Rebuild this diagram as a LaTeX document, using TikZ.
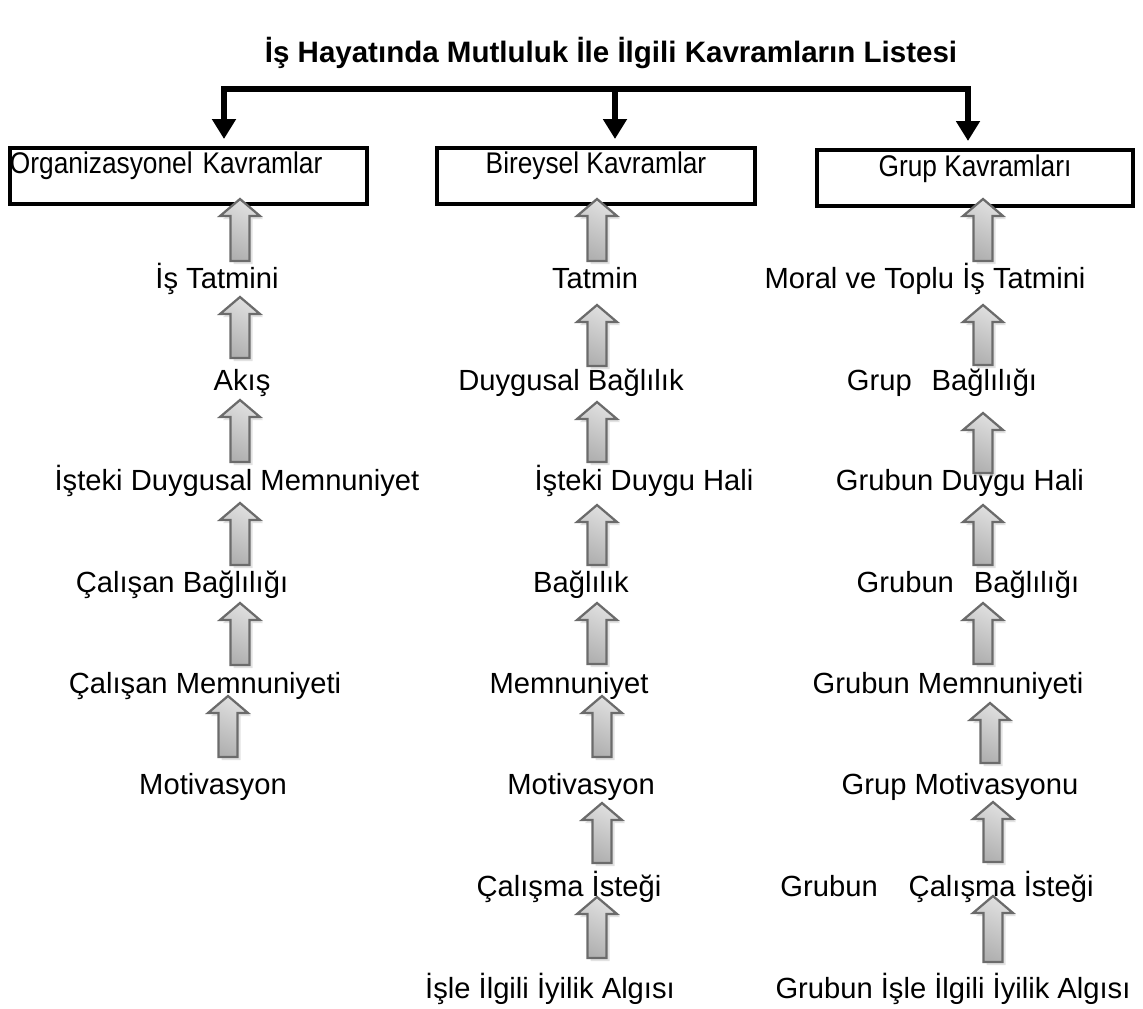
\documentclass[tikz,border=0pt]{standalone}
\usepackage{fontspec}
\setmainfont{Liberation Sans}
\newfontfamily\boxfont[FakeStretch=0.88]{Liberation Sans}
\usetikzlibrary{arrows.meta}
\usetikzlibrary{positioning}
\tikzset{lbl/.style = {anchor=base, inner sep=0, font=\fontsize{16.6}{20}\selectfont}}
\tikzset{ttl/.style = {anchor=base, inner sep=0, font=\fontsize{16.8}{20}\selectfont\bfseries}}
\tikzset{kbox/.style = {draw, line width=0.08cm, anchor=north, inner ysep=0, text height=0.52cm, text depth=0.6cm, font=\boxfont\fontsize{17}{20}\selectfont}}
\tikzset{bus/.style = {line width=0.12cm}}
\tikzset{drop/.style = {bus, -{Triangle[width=0.46cm, length=0.4cm]}, shorten >=0.14cm}}
\tikzset{blk/.style = {draw=black!58, line width=0.045cm, top color=gray!25, bottom color=gray!62, shading angle=-25}}
\tikzset{blkshadow/.style = {fill=gray!45, opacity=0.5}}
% block arrow: name, x, y of tip, y of foot
\newcommand{\blkup}[4]{%
  \coordinate (#1) at (#2,#3);
  \fill[blkshadow] (#2+3,#3+3) -- (#2+23,#3+20) -- (#2+12.5,#3+20) -- (#2+12.5,#4+3)
    -- (#2-6.5,#4+3) -- (#2-6.5,#3+20) -- (#2-17,#3+20) -- cycle;
  \draw[blk] (#2,#3) -- (#2+20,#3+17) -- (#2+9.5,#3+17) -- (#2+9.5,#4)
    -- (#2-9.5,#4) -- (#2-9.5,#3+17) -- (#2-20,#3+17) -- cycle;
}

\begin{document}
\begin{tikzpicture}[x=0.02cm, y=-0.02cm]
  \useasboundingbox (0,0) rectangle (1143,1008);

  \node [ttl] (title) at (611,62) {İş Hayatında Mutluluk İle İlgili Kavramların Listesi};

  % top boxes
  \node [kbox, anchor=north west, inner xsep=0, text width=7.14cm, align=left] (org) at (8,146) {Organizasyonel Kavramlar};
  \node [kbox, minimum width=6.36cm] (bir) at (596,146) {Bireysel Kavramlar};
  \node [kbox, minimum width=6.32cm] (grp) at (975,148) {Grup Kavramları};

  % connector
  \coordinate (jl) at (224,89);
  \coordinate (jm) at (615,89);
  \coordinate (jr) at (968,89);
  \draw [bus, line cap=rect] (jl) -- (jr);
  \draw [drop] (jl) -- (jl |- org.north);
  \draw [drop] (jm) -- (jm |- bir.north);
  \draw [drop] (jr) -- (jr |- grp.north);

  % organizasyonel
  \node [lbl] (o1) at (217,288) {İş Tatmini};
  \node [lbl] (o2) at (242,390) {Akış};
  \node [lbl] (o3) at (237,490) {İşteki Duygusal Memnuniyet};
  \node [lbl] (o4) at (182,592) {Çalışan Bağlılığı};
  \node [lbl] (o5) at (205,693) {Çalışan Memnuniyeti};
  \node [lbl] (o6) at (213,794) {Motivasyon};
  \blkup{oa1}{240}{199}{261}
  \blkup{oa2}{240}{297}{358}
  \blkup{oa3}{240}{400}{462}
  \blkup{oa4}{240}{503}{565}
  \blkup{oa5}{240}{603}{665}
  \blkup{oa6}{228}{696}{757}

  % bireysel
  \node [lbl] (b1) at (595,288) {Tatmin};
  \node [lbl] (b2) at (571,390) {Duygusal Bağlılık};
  \node [lbl] (b3) at (644,490) {İşteki Duygu Hali};
  \node [lbl] (b4) at (581,592) {Bağlılık};
  \node [lbl] (b5) at (569,693) {Memnuniyet};
  \node [lbl] (b6) at (581,794) {Motivasyon};
  \node [lbl] (b7) at (569,896) {Çalışma İsteği};
  \node [lbl] (b8) at (550,998) {İşle İlgili İyilik Algısı};
  \blkup{ba1}{597}{199}{261}
  \blkup{ba2}{597}{305}{366}
  \blkup{ba3}{597}{402}{462}
  \blkup{ba4}{597}{505}{565}
  \blkup{ba5}{597}{603}{664}
  \blkup{ba6}{602}{696}{757}
  \blkup{ba7}{602}{803}{863}
  \blkup{ba8}{597}{897}{958}

  % grup
  \node [lbl] (g1) at (925,288) {Moral ve Toplu İş Tatmini};
  \node [lbl] (g2) at (942,390) {Grup\hspace{0.4cm}Bağlılığı};
  \node [lbl] (g3) at (960,490) {Grubun Duygu Hali};
  \node [lbl] (g4) at (968,592) {Grubun\hspace{0.4cm}Bağlılığı};
  \node [lbl] (g5) at (948,693) {Grubun Memnuniyeti};
  \node [lbl] (g6) at (960,794) {Grup Motivasyonu};
  \node [lbl] (g7) at (937,896) {Grubun\hspace{0.62cm}Çalışma İsteği};
  \node [lbl] (g8) at (953,998) {Grubun İşle İlgili İyilik Algısı};
  \blkup{ga1}{983}{199}{261}
  \blkup{ga2}{983}{305}{365}
  \blkup{ga3}{983}{413}{473}
  \blkup{ga4}{983}{505}{565}
  \blkup{ga5}{983}{603}{664}
  \blkup{ga6}{990}{703}{763}
  \blkup{ga7}{993}{802}{862}
  \blkup{ga8}{993}{896}{962}
\end{tikzpicture}
\end{document}
